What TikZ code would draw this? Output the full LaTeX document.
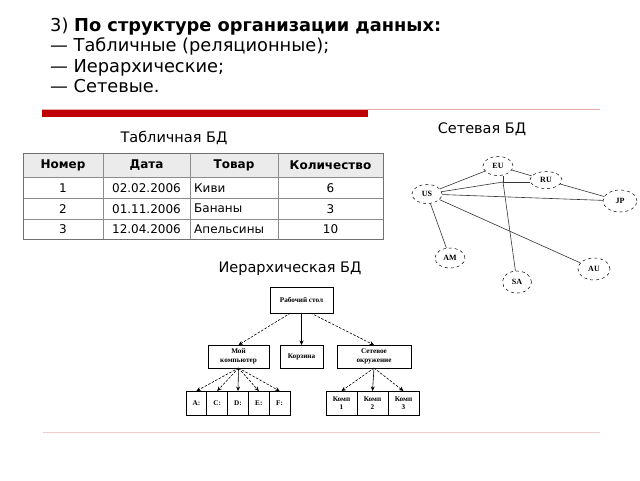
\documentclass[tikz,border=0pt]{standalone}
\usepackage{fontspec}
\setmainfont{DejaVu Sans}
\newfontfamily\figfont{Liberation Serif}
\usetikzlibrary{arrows.meta,positioning,shapes.geometric}
\definecolor{barred}{HTML}{C00000}
\definecolor{rulepink}{HTML}{E6A8A8}
\definecolor{gridgray}{HTML}{8C8C8C}
\definecolor{headgray}{HTML}{EBEBEB}

\begin{document}
\begin{tikzpicture}[x=1pt,y=-1pt,
  line/.style={anchor=base west, inner sep=0pt, font=\fontsize{17.8}{20}\selectfont},
  title/.style={font=\fontsize{14.5}{17}\selectfont},
  cell/.style={inner sep=0pt, font=\fontsize{12}{14}\selectfont},
  hcell/.style={cell, font=\fontsize{12}{14}\selectfont\bfseries},
  site/.style={ellipse, draw, dashed, line width=0.5pt, minimum width=30pt, minimum height=19pt, inner sep=0pt, font=\figfont\bfseries\fontsize{8}{9}\selectfont},
  link/.style={line width=0.6pt, black!80},
  box/.style={draw, line width=0.7pt, inner sep=0pt, outer sep=0pt, align=center, font=\figfont\bfseries\fontsize{7.2}{8.5}\selectfont},
  leaf/.style={box, minimum width=20.8pt, minimum height=24pt},
  comp/.style={box, minimum width=31pt, minimum height=24pt},
  arr/.style={-{Stealth[length=4.5pt,width=4pt]}, line width=0.6pt},
  darr/.style={arr, dash pattern=on 2.5pt off 1.5pt}]
  \useasboundingbox (0,0) rectangle (640,480);

  % heading
  \node[line] (head) at (50,31) {3) \textbf{По структуре организации данных:}};
  \node[line] (tabline) at (50,51.5) {— Табличные (реляционные);};
  \node[line] (hierline) at (50,72) {— Иерархические;};
  \node[line] (netline) at (50,92) {— Сетевые.};
  \draw[rulepink, line width=1pt] (42,109.5) -- (600,109.5);
  \fill[barred] (42,110) rectangle (368,117);
  \draw[rulepink!60, line width=1pt] (43,432) -- (600,432);

  % table
  \node[title] (tabtitle) at (174,138) {Табличная БД};
  \fill[headgray] (23,153) rectangle (383,177);
  \draw[gridgray, line width=0.6pt] (23,177) -- (383,177) (23,198.5) -- (383,198.5)
    (23,219) -- (383,219) (103,153) -- (103,239) (190,153) -- (190,239) (278,153) -- (278,239);
  \draw[gridgray!80!black, line width=0.9pt] (23,153) rectangle (383,239);
  \node[hcell] (hnum) at (63,165) {Номер};
  \node[hcell] (hdate) at (146.5,165) {Дата};
  \node[hcell] (hitem) at (234,165) {Товар};
  \node[hcell] (hqty) at (330.5,165) {Количество};
  \foreach \n/\d/\t/\q [count=\r] in {1/02.02.2006/Киви/6, 2/01.11.2006/Бананы/3, 3/12.04.2006/Апельсины/10} {
    \node[cell] (num\r) at (63,167.3+20.7*\r) {\n};
    \node[cell] (date\r) at (146.5,167.3+20.7*\r) {\d};
    \node[cell, anchor=west] (item\r) at (194,167.3+20.7*\r) {\t};
    \node[cell] (qty\r) at (330.5,167.3+20.7*\r) {\q};
  }

  % network
  \node[title] (nettitle) at (482,129) {Сетевая БД};
  \node[site] (EU) at (498,166) {EU};
  \node[site, minimum width=32pt, minimum height=17pt] (RU) at (546,180) {RU};
  \node[site] (US) at (427,194) {US};
  \node[site, minimum width=34pt, minimum height=22pt] (JP) at (620,201) {JP};
  \node[site, minimum height=20pt] (AM) at (450,258) {AM};
  \node[site, minimum width=29pt, minimum height=22pt] (SA) at (517,282) {SA};
  \node[site, minimum width=32pt, minimum height=22pt] (AU) at (594,269) {AU};
  \coordinate (hub) at (503,182);
  \draw[link] (EU) -- (US);
  \draw[link] (EU) -- (RU);
  \draw[link] (RU) -- (JP);
  \draw[link] (US) -- (JP);
  \draw[link] (US) -- (AM);
  \draw[link] (US) -- (AU);
  \draw[link] (US) -- (hub);
  \draw[link] (hub) -- (hub |- EU.south);
  \draw[link] (hub) -- (hub -| RU.west);
  \draw[link] (hub) -- (SA);

  % hierarchy
  \node[title] (hiertitle) at (290,269) {Иерархическая БД};
  \node[box, minimum width=63pt, minimum height=26pt] (desk) at (301.5,300) {Рабочий стол};
  \node[box, minimum width=61pt, minimum height=23pt] (mycomp) at (238.5,356.5) {Мой\\компьютер};
  \node[box, minimum width=43pt, minimum height=23pt] (trash) at (301.5,356.5) {Корзина};
  \node[box, minimum width=74pt, minimum height=23pt] (netenv) at (374,356.5) {Сетевое\\окружение};
  \node[leaf] (da) at (196.4,403) {A:};
  \node[leaf, right=0pt of da] (dc) {C:};
  \node[leaf, right=0pt of dc] (dd) {D:};
  \node[leaf, right=0pt of dd] (de) {E:};
  \node[leaf, right=0pt of de] (df) {F:};
  \node[comp] (pc1) at (341.5,403) {Комп\\1};
  \node[comp, right=0pt of pc1] (pc2) {Комп\\2};
  \node[comp, right=0pt of pc2] (pc3) {Комп\\3};
  \draw[darr] ([xshift=-11pt]desk.south) -- (mycomp.north);
  \draw[arr] (desk.south) -- (trash.north);
  \draw[darr] ([xshift=9pt]desk.south) -- (netenv.north);
  \draw[darr] (mycomp.south) -- (da.north);
  \draw[darr] (mycomp.south) -- (dc.north);
  \draw[arr] (mycomp.south) -- (dd.north);
  \draw[darr] (mycomp.south) -- (de.north);
  \draw[darr] (mycomp.south) -- (df.north);
  \draw[darr] (netenv.south) -- (pc1.north);
  \draw[arr] (netenv.south) -- (pc2.north);
  \draw[darr] (netenv.south) -- (pc3.north);
\end{tikzpicture}
\end{document}
